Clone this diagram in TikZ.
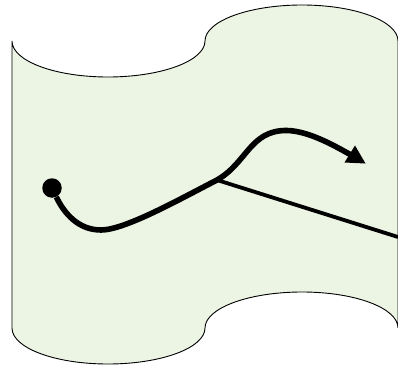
\documentclass[tikz,border=0pt]{standalone}
\begin{document}
\begin{tikzpicture}[x=1pt,y=-1pt,
  sheet/.style={draw=black,line width=0.9pt,fill=sheetgreen},
  mainpath/.style={line width=5.6pt,draw=black},
  branchline/.style={line width=3.8pt,draw=black},
  startdot/.style={circle,fill=black,inner sep=0pt,minimum size=19.5pt},
  head/.style={fill=black,draw=none}]
\definecolor{sheetgreen}{HTML}{ECF5E4}
\useasboundingbox (0,0) rectangle (398,366);
\path[sheet] (12,41)
  .. controls (12,61) and (55,77) .. (108,77)
  .. controls (161,77) and (205,61) .. (205,41)
  .. controls (205,21) and (249,5) .. (302,5)
  .. controls (355,5) and (398,21) .. (398,41)
  -- (398,328)
  .. controls (398,308) and (355,292) .. (302,292)
  .. controls (249,292) and (205,308) .. (205,328)
  .. controls (205,348) and (161,364) .. (108,364)
  .. controls (55,364) and (12,348) .. (12,328)
  -- cycle;
\node[startdot] (s) at (52,188) {};
\coordinate (j) at (217,180);
\coordinate (r) at (398,237);
\coordinate (t) at (365.5,163.5);
\coordinate (e) at (351,155);
\draw[branchline] (j) -- (r);
\draw[mainpath] (s) .. controls (64,213) and (78,230) .. (101,230)
  .. controls (125,230) and (180,199) .. (j)
  .. controls (247,163) and (250,130) .. (287,130.5)
  .. controls (307,131) and (330,143) .. (e);
\fill[head] (t) -- (344.5,162.5) -- (355,145.5) -- cycle;
\end{tikzpicture}
\end{document}
